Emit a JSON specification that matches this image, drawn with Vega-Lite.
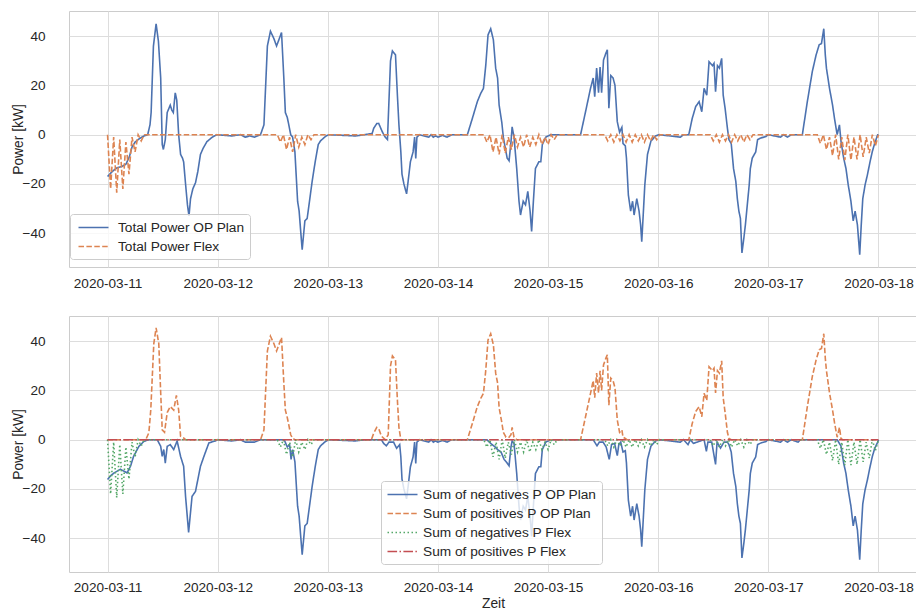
{
"$schema": "https://vega.github.io/schema/vega-lite/v6.json",
"padding": {"top": 10, "left": 11, "right": 0, "bottom": 0},
"background": "white",
"spacing": 24,
"config": {
  "font": "Liberation Sans",
  "view": {"stroke": "#cccccc", "strokeWidth": 1},
  "axis": {"domain": false, "ticks": false, "grid": true, "gridColor": "#dddddd", "gridWidth": 1, "labelFontSize": 13.6, "labelColor": "#262626", "titleFontSize": 13.8, "titleFontWeight": "normal", "titleColor": "#262626"},
  "line": {"strokeWidth": 1.6}
},
"resolve": {"scale": {"color": "independent", "strokeDash": "independent"}, "legend": {"color": "independent", "strokeDash": "independent"}},
"datasets": {
"op": [
{"t":"2020-03-11 00:00","v":-17},{"t":"2020-03-11 00:30","v":-16},{"t":"2020-03-11 01:00","v":-15},{"t":"2020-03-11 02:00","v":-13.5},{"t":"2020-03-11 03:00","v":-13},{"t":"2020-03-11 04:00","v":-12},{"t":"2020-03-11 04:45","v":-9},{"t":"2020-03-11 05:20","v":-5},{"t":"2020-03-11 06:00","v":-3},{"t":"2020-03-11 07:00","v":-1.5},{"t":"2020-03-11 08:00","v":-0.5},{"t":"2020-03-11 08:45","v":0},{"t":"2020-03-11 09:15","v":4},{"t":"2020-03-11 09:30","v":9},{"t":"2020-03-11 10:00","v":36},{"t":"2020-03-11 10:35","v":45},{"t":"2020-03-11 11:05","v":38},{"t":"2020-03-11 11:35","v":23},{"t":"2020-03-11 11:55","v":-4},{"t":"2020-03-11 12:10","v":-6},{"t":"2020-03-11 12:35","v":-2},{"t":"2020-03-11 13:00","v":9},{"t":"2020-03-11 13:40","v":12},{"t":"2020-03-11 14:00","v":10},{"t":"2020-03-11 14:20","v":9},{"t":"2020-03-11 14:45","v":17},{"t":"2020-03-11 15:05","v":14},{"t":"2020-03-11 15:30","v":0},{"t":"2020-03-11 15:55","v":-8},{"t":"2020-03-11 16:20","v":-9.5},{"t":"2020-03-11 16:35","v":-11},{"t":"2020-03-11 17:00","v":-20},{"t":"2020-03-11 17:25","v":-28.5},{"t":"2020-03-11 17:45","v":-33},{"t":"2020-03-11 18:05","v":-26},{"t":"2020-03-11 18:35","v":-22},{"t":"2020-03-11 19:10","v":-19.5},{"t":"2020-03-11 19:40","v":-15},{"t":"2020-03-11 20:15","v":-8},{"t":"2020-03-11 20:50","v":-5.5},{"t":"2020-03-11 21:40","v":-2.8},{"t":"2020-03-11 22:50","v":-1},{"t":"2020-03-11 23:50","v":0},
{"t":"2020-03-12 03:00","v":-0.5},{"t":"2020-03-12 05:00","v":0},{"t":"2020-03-12 06:00","v":-1},{"t":"2020-03-12 07:00","v":-0.5},{"t":"2020-03-12 08:00","v":-1},{"t":"2020-03-12 09:20","v":0},{"t":"2020-03-12 10:05","v":4},{"t":"2020-03-12 10:50","v":36},{"t":"2020-03-12 11:30","v":42},{"t":"2020-03-12 12:15","v":39},{"t":"2020-03-12 12:50","v":36},{"t":"2020-03-12 13:20","v":38.5},{"t":"2020-03-12 13:55","v":41.5},{"t":"2020-03-12 14:25","v":23},{"t":"2020-03-12 14:45","v":9},{"t":"2020-03-12 15:10","v":7},{"t":"2020-03-12 15:30","v":4},{"t":"2020-03-12 15:55","v":0},{"t":"2020-03-12 16:20","v":-1},{"t":"2020-03-12 16:50","v":-7},{"t":"2020-03-12 17:25","v":-27},{"t":"2020-03-12 17:45","v":-31},{"t":"2020-03-12 18:05","v":-39},{"t":"2020-03-12 18:25","v":-46.7},{"t":"2020-03-12 19:00","v":-35},{"t":"2020-03-12 19:30","v":-34},{"t":"2020-03-12 20:05","v":-26},{"t":"2020-03-12 20:35","v":-19},{"t":"2020-03-12 21:15","v":-11},{"t":"2020-03-12 21:55","v":-4},{"t":"2020-03-12 22:25","v":-2.5},{"t":"2020-03-12 23:30","v":-0.7},
{"t":"2020-03-13 00:10","v":0},{"t":"2020-03-13 06:00","v":-0.5},{"t":"2020-03-13 08:00","v":0},{"t":"2020-03-13 09:40","v":0.5},{"t":"2020-03-13 10:00","v":2.6},{"t":"2020-03-13 10:40","v":4.5},{"t":"2020-03-13 11:05","v":4.6},{"t":"2020-03-13 11:55","v":1},{"t":"2020-03-13 12:30","v":-1},{"t":"2020-03-13 13:00","v":-2},{"t":"2020-03-13 13:40","v":30},{"t":"2020-03-13 14:05","v":34},{"t":"2020-03-13 14:45","v":32.4},{"t":"2020-03-13 15:10","v":16},{"t":"2020-03-13 15:30","v":4},{"t":"2020-03-13 15:55","v":-7},{"t":"2020-03-13 16:10","v":-16},{"t":"2020-03-13 16:35","v":-20},{"t":"2020-03-13 17:10","v":-24},{"t":"2020-03-13 17:30","v":-19},{"t":"2020-03-13 18:00","v":-11},{"t":"2020-03-13 18:35","v":-7},{"t":"2020-03-13 18:55","v":-1},{"t":"2020-03-13 19:10","v":-9.6},{"t":"2020-03-13 19:25","v":-1},{"t":"2020-03-13 20:00","v":0},{"t":"2020-03-13 22:00","v":-1},{"t":"2020-03-13 22:30","v":0},{"t":"2020-03-13 23:00","v":-1},{"t":"2020-03-13 23:30","v":-0.5},
{"t":"2020-03-14 00:00","v":-1},{"t":"2020-03-14 01:00","v":-0.3},{"t":"2020-03-14 02:00","v":-1},{"t":"2020-03-14 03:00","v":0},{"t":"2020-03-14 06:25","v":0},{"t":"2020-03-14 07:30","v":6.6},{"t":"2020-03-14 08:35","v":13.4},{"t":"2020-03-14 09:20","v":16.8},{"t":"2020-03-14 09:55","v":18.8},{"t":"2020-03-14 10:25","v":28},{"t":"2020-03-14 10:55","v":40.5},{"t":"2020-03-14 11:30","v":43},{"t":"2020-03-14 12:05","v":38.5},{"t":"2020-03-14 12:35","v":27},{"t":"2020-03-14 13:00","v":23},{"t":"2020-03-14 13:20","v":12},{"t":"2020-03-14 13:55","v":5},{"t":"2020-03-14 14:15","v":-1},{"t":"2020-03-14 14:50","v":-7},{"t":"2020-03-14 15:05","v":-9.5},{"t":"2020-03-14 15:30","v":-10.6},{"t":"2020-03-14 15:55","v":-3},{"t":"2020-03-14 16:10","v":3.2},{"t":"2020-03-14 16:35","v":-1},{"t":"2020-03-14 17:10","v":-13.7},{"t":"2020-03-14 17:40","v":-27},{"t":"2020-03-14 18:00","v":-32.6},{"t":"2020-03-14 18:35","v":-27},{"t":"2020-03-14 19:05","v":-28.5},{"t":"2020-03-14 19:35","v":-23},{"t":"2020-03-14 20:05","v":-31},{"t":"2020-03-14 20:25","v":-39.3},{"t":"2020-03-14 20:50","v":-26},{"t":"2020-03-14 21:15","v":-13.7},{"t":"2020-03-14 22:00","v":-11},{"t":"2020-03-14 22:25","v":-11},{"t":"2020-03-14 22:45","v":-4},{"t":"2020-03-14 23:30","v":-1},
{"t":"2020-03-15 00:35","v":0},{"t":"2020-03-15 07:05","v":0},{"t":"2020-03-15 08:10","v":9.3},{"t":"2020-03-15 09:15","v":18.8},{"t":"2020-03-15 09:50","v":23},{"t":"2020-03-15 10:10","v":15.4},{"t":"2020-03-15 10:35","v":27},{"t":"2020-03-15 11:00","v":17},{"t":"2020-03-15 11:20","v":27.5},{"t":"2020-03-15 11:40","v":17},{"t":"2020-03-15 12:05","v":30.3},{"t":"2020-03-15 12:35","v":33},{"t":"2020-03-15 12:55","v":34.5},{"t":"2020-03-15 13:15","v":10.7},{"t":"2020-03-15 13:40","v":24},{"t":"2020-03-15 14:10","v":23},{"t":"2020-03-15 14:35","v":20},{"t":"2020-03-15 15:05","v":5.3},{"t":"2020-03-15 15:35","v":1},{"t":"2020-03-15 16:05","v":3},{"t":"2020-03-15 16:20","v":-3.6},{"t":"2020-03-15 16:50","v":-4.5},{"t":"2020-03-15 17:05","v":-9.5},{"t":"2020-03-15 17:30","v":-24.5},{"t":"2020-03-15 18:00","v":-31},{"t":"2020-03-15 18:25","v":-27},{"t":"2020-03-15 18:45","v":-32.6},{"t":"2020-03-15 19:20","v":-26},{"t":"2020-03-15 19:50","v":-31},{"t":"2020-03-15 20:10","v":-36.6},{"t":"2020-03-15 20:25","v":-43.4},{"t":"2020-03-15 20:40","v":-35},{"t":"2020-03-15 21:05","v":-20.4},{"t":"2020-03-15 21:40","v":-8},{"t":"2020-03-15 22:25","v":-2.6},{"t":"2020-03-15 23:25","v":-0.5},
{"t":"2020-03-16 00:15","v":0},{"t":"2020-03-16 04:50","v":-1},{"t":"2020-03-16 05:30","v":0},{"t":"2020-03-16 06:40","v":0},{"t":"2020-03-16 07:25","v":6.6},{"t":"2020-03-16 08:10","v":11.4},{"t":"2020-03-16 08:55","v":13.4},{"t":"2020-03-16 09:30","v":9.3},{"t":"2020-03-16 10:00","v":18.8},{"t":"2020-03-16 10:35","v":16},{"t":"2020-03-16 11:05","v":29.6},{"t":"2020-03-16 11:50","v":28},{"t":"2020-03-16 12:10","v":29},{"t":"2020-03-16 12:30","v":17.4},{"t":"2020-03-16 12:55","v":28},{"t":"2020-03-16 13:20","v":27},{"t":"2020-03-16 13:50","v":31},{"t":"2020-03-16 14:10","v":16},{"t":"2020-03-16 14:35","v":10.7},{"t":"2020-03-16 15:05","v":2.6},{"t":"2020-03-16 15:25","v":-2},{"t":"2020-03-16 15:55","v":-3.6},{"t":"2020-03-16 16:25","v":-13.7},{"t":"2020-03-16 16:55","v":-19},{"t":"2020-03-16 17:15","v":-26},{"t":"2020-03-16 17:35","v":-31},{"t":"2020-03-16 17:55","v":-34},{"t":"2020-03-16 18:15","v":-48},{"t":"2020-03-16 18:40","v":-42},{"t":"2020-03-16 19:00","v":-36.6},{"t":"2020-03-16 19:25","v":-28.5},{"t":"2020-03-16 19:50","v":-20.4},{"t":"2020-03-16 20:05","v":-13.7},{"t":"2020-03-16 20:30","v":-9.5},{"t":"2020-03-16 21:15","v":-7},{"t":"2020-03-16 21:40","v":-2},{"t":"2020-03-16 22:25","v":-1.3},{"t":"2020-03-16 23:25","v":-0.8},
{"t":"2020-03-17 00:00","v":0},{"t":"2020-03-17 02:40","v":-1},{"t":"2020-03-17 03:20","v":0},{"t":"2020-03-17 04:10","v":-1},{"t":"2020-03-17 05:00","v":0},{"t":"2020-03-17 07:25","v":0},{"t":"2020-03-17 08:30","v":13.4},{"t":"2020-03-17 09:35","v":25.6},{"t":"2020-03-17 10:25","v":32.4},{"t":"2020-03-17 11:05","v":36.5},{"t":"2020-03-17 11:35","v":37},{"t":"2020-03-17 12:05","v":43},{"t":"2020-03-17 12:25","v":32.4},{"t":"2020-03-17 12:40","v":27},{"t":"2020-03-17 13:20","v":18.8},{"t":"2020-03-17 14:00","v":12},{"t":"2020-03-17 14:25","v":6.6},{"t":"2020-03-17 15:00","v":0},{"t":"2020-03-17 15:30","v":4},{"t":"2020-03-17 15:50","v":-2.6},{"t":"2020-03-17 16:25","v":-9.5},{"t":"2020-03-17 16:55","v":-13.7},{"t":"2020-03-17 17:25","v":-20.4},{"t":"2020-03-17 18:00","v":-27},{"t":"2020-03-17 18:30","v":-35},{"t":"2020-03-17 18:55","v":-31},{"t":"2020-03-17 19:25","v":-36.6},{"t":"2020-03-17 19:55","v":-48.7},{"t":"2020-03-17 20:15","v":-36.6},{"t":"2020-03-17 20:35","v":-26},{"t":"2020-03-17 21:05","v":-20.4},{"t":"2020-03-17 21:35","v":-16.4},{"t":"2020-03-17 22:10","v":-11},{"t":"2020-03-17 22:40","v":-6.8},{"t":"2020-03-17 23:10","v":-3.6},{"t":"2020-03-17 23:50","v":0},{"t":"2020-03-18 00:00","v":0}
],
"neg": [
{"t":"2020-03-11 00:00","v":-16.2},{"t":"2020-03-11 00:45","v":-14.5},{"t":"2020-03-11 01:25","v":-13.5},{"t":"2020-03-11 02:50","v":-12},{"t":"2020-03-11 04:15","v":-13.5},{"t":"2020-03-11 05:00","v":-10.8},{"t":"2020-03-11 05:40","v":-6.8},{"t":"2020-03-11 06:50","v":-2.7},{"t":"2020-03-11 07:55","v":-0.7},{"t":"2020-03-11 09:00","v":0},{"t":"2020-03-11 10:50","v":0},{"t":"2020-03-11 11:35","v":-2.7},{"t":"2020-03-11 11:55","v":-6.8},{"t":"2020-03-11 12:15","v":-4},{"t":"2020-03-11 12:35","v":-9.5},{"t":"2020-03-11 13:00","v":-2.7},{"t":"2020-03-11 13:40","v":-2},{"t":"2020-03-11 14:25","v":-4},{"t":"2020-03-11 15:10","v":-0.5},{"t":"2020-03-11 15:55","v":-6.8},{"t":"2020-03-11 16:35","v":-10.8},{"t":"2020-03-11 17:00","v":-23},{"t":"2020-03-11 17:40","v":-37.6},{"t":"2020-03-11 18:25","v":-23},{"t":"2020-03-11 19:10","v":-21},{"t":"2020-03-11 20:15","v":-10.8},{"t":"2020-03-11 21:00","v":-6.8},{"t":"2020-03-11 22:05","v":-1.3},{"t":"2020-03-11 23:30","v":-0.5},
{"t":"2020-03-12 00:00","v":0},{"t":"2020-03-12 03:00","v":-0.5},{"t":"2020-03-12 05:00","v":0},{"t":"2020-03-12 06:00","v":-1},{"t":"2020-03-12 08:00","v":-1},{"t":"2020-03-12 09:20","v":0},{"t":"2020-03-12 14:30","v":0},{"t":"2020-03-12 15:10","v":-3},{"t":"2020-03-12 15:40","v":-2},{"t":"2020-03-12 16:00","v":-8},{"t":"2020-03-12 16:20","v":-4},{"t":"2020-03-12 16:50","v":-9},{"t":"2020-03-12 17:25","v":-27},{"t":"2020-03-12 17:45","v":-31},{"t":"2020-03-12 18:05","v":-39},{"t":"2020-03-12 18:25","v":-46.7},{"t":"2020-03-12 19:00","v":-35},{"t":"2020-03-12 19:30","v":-34},{"t":"2020-03-12 20:05","v":-26},{"t":"2020-03-12 20:35","v":-19},{"t":"2020-03-12 21:15","v":-11},{"t":"2020-03-12 21:55","v":-4},{"t":"2020-03-12 22:25","v":-2.5},{"t":"2020-03-12 23:30","v":-0.7},
{"t":"2020-03-13 00:10","v":0},{"t":"2020-03-13 06:00","v":-0.5},{"t":"2020-03-13 08:00","v":0},{"t":"2020-03-13 11:40","v":0},{"t":"2020-03-13 12:10","v":-1.5},{"t":"2020-03-13 12:45","v":-2.5},{"t":"2020-03-13 13:20","v":-1},{"t":"2020-03-13 14:20","v":-1},{"t":"2020-03-13 15:00","v":-3.5},{"t":"2020-03-13 15:40","v":-2},{"t":"2020-03-13 15:55","v":-7},{"t":"2020-03-13 16:10","v":-16},{"t":"2020-03-13 16:35","v":-20},{"t":"2020-03-13 17:10","v":-24},{"t":"2020-03-13 17:30","v":-19},{"t":"2020-03-13 18:00","v":-11},{"t":"2020-03-13 18:35","v":-7},{"t":"2020-03-13 18:55","v":-1},{"t":"2020-03-13 19:10","v":-9.6},{"t":"2020-03-13 19:25","v":-1},{"t":"2020-03-13 20:00","v":0},{"t":"2020-03-13 22:00","v":-1},{"t":"2020-03-13 22:30","v":0},{"t":"2020-03-13 23:00","v":-1},{"t":"2020-03-13 23:30","v":-0.5},
{"t":"2020-03-14 00:00","v":-1},{"t":"2020-03-14 01:00","v":-0.3},{"t":"2020-03-14 02:00","v":-1},{"t":"2020-03-14 03:00","v":0},{"t":"2020-03-14 10:40","v":0},{"t":"2020-03-14 11:30","v":-1.5},{"t":"2020-03-14 12:30","v":-3},{"t":"2020-03-14 13:00","v":-4},{"t":"2020-03-14 13:45","v":-5},{"t":"2020-03-14 14:25","v":-8},{"t":"2020-03-14 15:05","v":-9.5},{"t":"2020-03-14 15:30","v":-10.6},{"t":"2020-03-14 15:55","v":-3},{"t":"2020-03-14 16:10","v":-0.5},{"t":"2020-03-14 16:35","v":-1.5},{"t":"2020-03-14 17:10","v":-13.7},{"t":"2020-03-14 17:40","v":-27},{"t":"2020-03-14 18:00","v":-32.6},{"t":"2020-03-14 18:35","v":-27},{"t":"2020-03-14 19:05","v":-28.5},{"t":"2020-03-14 19:35","v":-23},{"t":"2020-03-14 20:05","v":-31},{"t":"2020-03-14 20:25","v":-39.3},{"t":"2020-03-14 20:50","v":-26},{"t":"2020-03-14 21:15","v":-13.7},{"t":"2020-03-14 22:00","v":-11},{"t":"2020-03-14 22:25","v":-11},{"t":"2020-03-14 22:45","v":-4},{"t":"2020-03-14 23:30","v":-1},
{"t":"2020-03-15 00:35","v":0},{"t":"2020-03-15 09:50","v":0},{"t":"2020-03-15 10:10","v":-1},{"t":"2020-03-15 10:40","v":-2.5},{"t":"2020-03-15 11:10","v":-1},{"t":"2020-03-15 12:00","v":-1},{"t":"2020-03-15 12:40","v":-3},{"t":"2020-03-15 13:20","v":-8},{"t":"2020-03-15 13:50","v":-2},{"t":"2020-03-15 14:30","v":-1.5},{"t":"2020-03-15 15:05","v":-6.5},{"t":"2020-03-15 15:25","v":-2},{"t":"2020-03-15 15:50","v":-1},{"t":"2020-03-15 16:20","v":-5},{"t":"2020-03-15 16:50","v":-4.5},{"t":"2020-03-15 17:05","v":-9.5},{"t":"2020-03-15 17:30","v":-24.5},{"t":"2020-03-15 18:00","v":-31},{"t":"2020-03-15 18:25","v":-27},{"t":"2020-03-15 18:45","v":-32.6},{"t":"2020-03-15 19:20","v":-26},{"t":"2020-03-15 19:50","v":-31},{"t":"2020-03-15 20:10","v":-36.6},{"t":"2020-03-15 20:25","v":-43.4},{"t":"2020-03-15 20:40","v":-35},{"t":"2020-03-15 21:05","v":-20.4},{"t":"2020-03-15 21:40","v":-8},{"t":"2020-03-15 22:25","v":-2.6},{"t":"2020-03-15 23:25","v":-0.5},
{"t":"2020-03-16 00:15","v":0},{"t":"2020-03-16 04:50","v":-1},{"t":"2020-03-16 05:30","v":0},{"t":"2020-03-16 06:30","v":-2},{"t":"2020-03-16 07:00","v":0},{"t":"2020-03-16 07:40","v":-1.5},{"t":"2020-03-16 10:00","v":0},{"t":"2020-03-16 10:30","v":-4.7},{"t":"2020-03-16 10:50","v":-1},{"t":"2020-03-16 11:40","v":-1},{"t":"2020-03-16 12:30","v":-10},{"t":"2020-03-16 12:50","v":-1},{"t":"2020-03-16 13:35","v":-3.4},{"t":"2020-03-16 14:20","v":-1},{"t":"2020-03-16 15:05","v":-1},{"t":"2020-03-16 15:25","v":-2},{"t":"2020-03-16 15:55","v":-5},{"t":"2020-03-16 16:25","v":-13.7},{"t":"2020-03-16 16:55","v":-19},{"t":"2020-03-16 17:15","v":-26},{"t":"2020-03-16 17:35","v":-31},{"t":"2020-03-16 17:55","v":-34},{"t":"2020-03-16 18:15","v":-48},{"t":"2020-03-16 18:40","v":-42},{"t":"2020-03-16 19:00","v":-36.6},{"t":"2020-03-16 19:25","v":-28.5},{"t":"2020-03-16 19:50","v":-20.4},{"t":"2020-03-16 20:05","v":-13.7},{"t":"2020-03-16 20:30","v":-9.5},{"t":"2020-03-16 21:15","v":-7},{"t":"2020-03-16 21:40","v":-2},{"t":"2020-03-16 22:25","v":-1.3},{"t":"2020-03-16 23:25","v":-0.8},
{"t":"2020-03-17 00:00","v":0},{"t":"2020-03-17 02:40","v":-1},{"t":"2020-03-17 03:20","v":0},{"t":"2020-03-17 04:10","v":-1},{"t":"2020-03-17 05:00","v":0},{"t":"2020-03-17 06:30","v":-1},{"t":"2020-03-17 07:00","v":0},{"t":"2020-03-17 15:00","v":0},{"t":"2020-03-17 15:50","v":-2.6},{"t":"2020-03-17 16:25","v":-9.5},{"t":"2020-03-17 16:55","v":-13.7},{"t":"2020-03-17 17:25","v":-20.4},{"t":"2020-03-17 18:00","v":-27},{"t":"2020-03-17 18:30","v":-35},{"t":"2020-03-17 18:55","v":-31},{"t":"2020-03-17 19:25","v":-36.6},{"t":"2020-03-17 19:55","v":-48.7},{"t":"2020-03-17 20:15","v":-36.6},{"t":"2020-03-17 20:35","v":-26},{"t":"2020-03-17 21:05","v":-20.4},{"t":"2020-03-17 21:35","v":-16.4},{"t":"2020-03-17 22:10","v":-11},{"t":"2020-03-17 22:40","v":-6.8},{"t":"2020-03-17 23:10","v":-3.6},{"t":"2020-03-17 23:50","v":-1},{"t":"2020-03-18 00:00","v":0}
],
"pos": [
{"t":"2020-03-11 00:00","v":0},{"t":"2020-03-11 08:20","v":0},{"t":"2020-03-11 09:00","v":2.8},{"t":"2020-03-11 09:25","v":12},{"t":"2020-03-11 10:05","v":39},{"t":"2020-03-11 10:35","v":45.4},{"t":"2020-03-11 11:10","v":39},{"t":"2020-03-11 11:35","v":19},{"t":"2020-03-11 11:55","v":4},{"t":"2020-03-11 12:25","v":3},{"t":"2020-03-11 13:00","v":11},{"t":"2020-03-11 13:40","v":13.5},{"t":"2020-03-11 14:25","v":12},{"t":"2020-03-11 15:00","v":18},{"t":"2020-03-11 15:30","v":12},{"t":"2020-03-11 15:55","v":1.4},{"t":"2020-03-11 16:35","v":0.7},{"t":"2020-03-11 17:00","v":0},
{"t":"2020-03-12 09:20","v":0},{"t":"2020-03-12 10:05","v":4},{"t":"2020-03-12 10:50","v":36},{"t":"2020-03-12 11:30","v":42},{"t":"2020-03-12 12:15","v":39},{"t":"2020-03-12 12:50","v":36},{"t":"2020-03-12 13:20","v":38.5},{"t":"2020-03-12 13:55","v":41.5},{"t":"2020-03-12 14:25","v":23},{"t":"2020-03-12 14:45","v":12},{"t":"2020-03-12 15:10","v":9},{"t":"2020-03-12 15:30","v":6},{"t":"2020-03-12 15:55","v":2},{"t":"2020-03-12 16:20","v":0.5},{"t":"2020-03-12 16:50","v":0},
{"t":"2020-03-13 09:30","v":0},{"t":"2020-03-13 10:00","v":2.6},{"t":"2020-03-13 10:40","v":5},{"t":"2020-03-13 11:05","v":4.6},{"t":"2020-03-13 11:40","v":1.5},{"t":"2020-03-13 12:30","v":0},{"t":"2020-03-13 13:10","v":2},{"t":"2020-03-13 13:40","v":30},{"t":"2020-03-13 14:05","v":34},{"t":"2020-03-13 14:45","v":32.4},{"t":"2020-03-13 15:10","v":16},{"t":"2020-03-13 15:30","v":5},{"t":"2020-03-13 15:55","v":0},
{"t":"2020-03-14 06:25","v":0},{"t":"2020-03-14 07:30","v":6.6},{"t":"2020-03-14 08:35","v":13.4},{"t":"2020-03-14 09:20","v":16.8},{"t":"2020-03-14 09:55","v":18.8},{"t":"2020-03-14 10:25","v":28},{"t":"2020-03-14 10:55","v":40.5},{"t":"2020-03-14 11:30","v":43},{"t":"2020-03-14 12:05","v":38.5},{"t":"2020-03-14 12:35","v":27},{"t":"2020-03-14 13:00","v":23},{"t":"2020-03-14 13:20","v":13},{"t":"2020-03-14 13:55","v":7},{"t":"2020-03-14 14:15","v":3},{"t":"2020-03-14 14:50","v":1},{"t":"2020-03-14 15:30","v":1},{"t":"2020-03-14 15:55","v":2},{"t":"2020-03-14 16:10","v":5},{"t":"2020-03-14 16:35","v":1},{"t":"2020-03-14 17:10","v":0},
{"t":"2020-03-15 07:05","v":0},{"t":"2020-03-15 08:10","v":9.3},{"t":"2020-03-15 09:15","v":18.8},{"t":"2020-03-15 09:50","v":24},{"t":"2020-03-15 10:10","v":17},{"t":"2020-03-15 10:35","v":27},{"t":"2020-03-15 11:00","v":19},{"t":"2020-03-15 11:20","v":28},{"t":"2020-03-15 11:40","v":20},{"t":"2020-03-15 12:05","v":30.3},{"t":"2020-03-15 12:35","v":33},{"t":"2020-03-15 12:55","v":34.5},{"t":"2020-03-15 13:15","v":14},{"t":"2020-03-15 13:40","v":25},{"t":"2020-03-15 14:10","v":24},{"t":"2020-03-15 14:35","v":21},{"t":"2020-03-15 15:05","v":8},{"t":"2020-03-15 15:35","v":3},{"t":"2020-03-15 16:05","v":4},{"t":"2020-03-15 16:20","v":1},{"t":"2020-03-15 16:50","v":0.5},{"t":"2020-03-15 17:10","v":0},
{"t":"2020-03-16 06:40","v":0},{"t":"2020-03-16 07:25","v":6.6},{"t":"2020-03-16 08:10","v":11.4},{"t":"2020-03-16 08:55","v":13.4},{"t":"2020-03-16 09:30","v":9.3},{"t":"2020-03-16 10:00","v":18.8},{"t":"2020-03-16 10:35","v":16},{"t":"2020-03-16 11:05","v":29.6},{"t":"2020-03-16 11:50","v":28},{"t":"2020-03-16 12:10","v":29},{"t":"2020-03-16 12:30","v":19},{"t":"2020-03-16 12:55","v":28},{"t":"2020-03-16 13:20","v":27},{"t":"2020-03-16 13:50","v":32},{"t":"2020-03-16 14:10","v":17},{"t":"2020-03-16 14:35","v":11},{"t":"2020-03-16 15:05","v":3},{"t":"2020-03-16 15:25","v":0.5},{"t":"2020-03-16 15:55","v":0},
{"t":"2020-03-17 07:25","v":0},{"t":"2020-03-17 08:30","v":13.4},{"t":"2020-03-17 09:35","v":25.6},{"t":"2020-03-17 10:25","v":32.4},{"t":"2020-03-17 11:05","v":36.5},{"t":"2020-03-17 11:35","v":37},{"t":"2020-03-17 12:05","v":43},{"t":"2020-03-17 12:25","v":33},{"t":"2020-03-17 12:40","v":28},{"t":"2020-03-17 13:20","v":19},{"t":"2020-03-17 14:00","v":12},{"t":"2020-03-17 14:25","v":7},{"t":"2020-03-17 15:00","v":1},{"t":"2020-03-17 15:30","v":5},{"t":"2020-03-17 15:50","v":0.5},{"t":"2020-03-17 16:10","v":0},{"t":"2020-03-18 00:00","v":0}
],
"flex": [
{"t":"2020-03-11 00:00","v":0},{"t":"2020-03-11 00:40","v":-22},{"t":"2020-03-11 01:20","v":-1},{"t":"2020-03-11 02:00","v":-23.5},{"t":"2020-03-11 02:40","v":-2},{"t":"2020-03-11 03:20","v":-22},{"t":"2020-03-11 04:00","v":-3},{"t":"2020-03-11 04:40","v":-16},{"t":"2020-03-11 05:20","v":-1},{"t":"2020-03-11 06:00","v":-7},{"t":"2020-03-11 06:40","v":0},{"t":"2020-03-11 07:20","v":-2.5},{"t":"2020-03-11 08:00","v":0},
{"t":"2020-03-12 13:00","v":0},{"t":"2020-03-12 13:40","v":-3},{"t":"2020-03-12 14:20","v":0},{"t":"2020-03-12 15:00","v":-6},{"t":"2020-03-12 15:40","v":-1},{"t":"2020-03-12 16:20","v":-7},{"t":"2020-03-12 17:00","v":0},{"t":"2020-03-12 17:40","v":-5},{"t":"2020-03-12 18:20","v":-1},{"t":"2020-03-12 19:00","v":-4},{"t":"2020-03-12 19:40","v":0},{"t":"2020-03-12 20:20","v":-2},{"t":"2020-03-12 21:00","v":0},
{"t":"2020-03-14 10:00","v":0},{"t":"2020-03-14 10:40","v":-3},{"t":"2020-03-14 11:20","v":0},{"t":"2020-03-14 12:00","v":-7},{"t":"2020-03-14 12:40","v":-1},{"t":"2020-03-14 13:20","v":-8},{"t":"2020-03-14 14:00","v":0},{"t":"2020-03-14 14:40","v":-7.5},{"t":"2020-03-14 15:20","v":-1},{"t":"2020-03-14 16:00","v":-6},{"t":"2020-03-14 16:40","v":0},{"t":"2020-03-14 17:20","v":-5},{"t":"2020-03-14 18:00","v":-1},{"t":"2020-03-14 18:40","v":-5},{"t":"2020-03-14 19:20","v":0},{"t":"2020-03-14 20:00","v":-5},{"t":"2020-03-14 20:40","v":-1},{"t":"2020-03-14 21:20","v":-4},{"t":"2020-03-14 22:00","v":0},{"t":"2020-03-14 22:40","v":-4},{"t":"2020-03-14 23:20","v":-1},{"t":"2020-03-15 00:00","v":-4},{"t":"2020-03-15 00:40","v":0},{"t":"2020-03-15 01:20","v":-2},{"t":"2020-03-15 02:00","v":0},
{"t":"2020-03-15 12:20","v":0},{"t":"2020-03-15 13:00","v":-2.5},{"t":"2020-03-15 13:40","v":0},{"t":"2020-03-15 14:20","v":-3},{"t":"2020-03-15 15:00","v":0},{"t":"2020-03-15 15:40","v":-2.5},{"t":"2020-03-15 16:20","v":0},{"t":"2020-03-15 17:00","v":-3},{"t":"2020-03-15 17:40","v":0},{"t":"2020-03-15 18:20","v":-3},{"t":"2020-03-15 19:00","v":0},{"t":"2020-03-15 19:40","v":-2.5},{"t":"2020-03-15 20:20","v":0},{"t":"2020-03-15 21:00","v":-3},{"t":"2020-03-15 21:40","v":0},{"t":"2020-03-15 22:20","v":-2.5},{"t":"2020-03-15 23:00","v":0},{"t":"2020-03-15 23:40","v":-2},{"t":"2020-03-16 00:20","v":0},
{"t":"2020-03-16 11:20","v":0},{"t":"2020-03-16 12:00","v":-2.5},{"t":"2020-03-16 12:40","v":0},{"t":"2020-03-16 13:20","v":-3},{"t":"2020-03-16 14:00","v":0},{"t":"2020-03-16 14:40","v":-2.5},{"t":"2020-03-16 15:20","v":0},{"t":"2020-03-16 16:00","v":-3},{"t":"2020-03-16 16:40","v":0},{"t":"2020-03-16 17:20","v":-2.5},{"t":"2020-03-16 18:00","v":0},{"t":"2020-03-16 18:40","v":-3},{"t":"2020-03-16 19:20","v":0},{"t":"2020-03-16 20:00","v":-2},{"t":"2020-03-16 20:40","v":0},
{"t":"2020-03-17 10:40","v":0},{"t":"2020-03-17 11:20","v":-3.5},{"t":"2020-03-17 12:00","v":0},{"t":"2020-03-17 12:40","v":-6},{"t":"2020-03-17 13:20","v":-1},{"t":"2020-03-17 14:00","v":-8.5},{"t":"2020-03-17 14:40","v":0},{"t":"2020-03-17 15:20","v":-10},{"t":"2020-03-17 16:00","v":-1},{"t":"2020-03-17 16:40","v":-10.3},{"t":"2020-03-17 17:20","v":0},{"t":"2020-03-17 18:00","v":-10.3},{"t":"2020-03-17 18:40","v":-1},{"t":"2020-03-17 19:20","v":-10},{"t":"2020-03-17 20:00","v":0},{"t":"2020-03-17 20:40","v":-9},{"t":"2020-03-17 21:20","v":-1},{"t":"2020-03-17 22:00","v":-7.5},{"t":"2020-03-17 22:40","v":0},{"t":"2020-03-17 23:20","v":-4.5},{"t":"2020-03-18 00:00","v":0}
],
"zero": [{"t":"2020-03-11 00:00","v":0},{"t":"2020-03-18 00:00","v":0}]
},
"vconcat": [
{
  "width": 848, "height": 256,
  "layer": [
    {"data": {"name": "op"}, "mark": {"type": "line", "clip": true},
     "encoding": {
       "x": {"field": "t", "type": "temporal", "scale": {"domain": [{"year":2020,"month":3,"date":10,"hours":15,"minutes":36},{"year":2020,"month":3,"date":18,"hours":8,"minutes":24}]}, "axis": {"values": [{"year":2020,"month":3,"date":11},{"year":2020,"month":3,"date":12},{"year":2020,"month":3,"date":13},{"year":2020,"month":3,"date":14},{"year":2020,"month":3,"date":15},{"year":2020,"month":3,"date":16},{"year":2020,"month":3,"date":17},{"year":2020,"month":3,"date":18}], "format": "%Y-%m-%d", "title": null, "labelPadding": 9}},
       "y": {"field": "v", "type": "quantitative", "scale": {"domain": [-53.7, 50.2], "nice": false, "zero": false}, "axis": {"values": [-40,-20,0,20,40], "title": "Power [kW]", "labelPadding": 24, "titlePadding": -4, "labelExpr": "replace(datum.label, '-', '−')"}},
       "color": {"datum": "Total Power OP Plan", "type": "nominal", "scale": {"domain": ["Total Power OP Plan", "Total Power Flex"], "range": ["#4C72B0", "#DD8452"]},
         "legend": {"title": null, "orient": "none", "legendX": 1, "legendY": 203, "symbolType": "M-2,0H2", "symbolSize": 225, "symbolStrokeWidth": 1.6, "symbolOffset": 10, "labelOffset": 16, "fillColor": "rgba(255,255,255,0.8)", "strokeColor": "#cccccc", "padding": 5, "cornerRadius": 3, "rowPadding": 3, "labelFontSize": 13.7, "labelColor": "#262626", "labelLimit": 400}},
       "strokeDash": {"datum": "Total Power OP Plan", "type": "nominal", "scale": {"domain": ["Total Power OP Plan", "Total Power Flex"], "range": [[1,0],[5.5,2.4]]},
         "legend": {"title": null, "orient": "none", "legendX": 1, "legendY": 203, "symbolType": "M-2,0H2", "symbolSize": 225, "symbolStrokeWidth": 1.6, "symbolOffset": 10, "labelOffset": 16, "fillColor": "rgba(255,255,255,0.8)", "strokeColor": "#cccccc", "padding": 5, "cornerRadius": 3, "rowPadding": 3, "labelFontSize": 13.7, "labelColor": "#262626", "labelLimit": 400}}
     }},
    {"data": {"name": "flex"}, "mark": {"type": "line", "clip": true},
     "encoding": {
       "x": {"field": "t", "type": "temporal"},
       "y": {"field": "v", "type": "quantitative"},
       "color": {"datum": "Total Power Flex", "type": "nominal"},
       "strokeDash": {"datum": "Total Power Flex", "type": "nominal"}
     }}
  ]
},
{
  "width": 848, "height": 256,
  "layer": [
    {"data": {"name": "neg"}, "mark": {"type": "line", "clip": true},
     "encoding": {
       "x": {"field": "t", "type": "temporal", "scale": {"domain": [{"year":2020,"month":3,"date":10,"hours":15,"minutes":36},{"year":2020,"month":3,"date":18,"hours":8,"minutes":24}]}, "axis": {"values": [{"year":2020,"month":3,"date":11},{"year":2020,"month":3,"date":12},{"year":2020,"month":3,"date":13},{"year":2020,"month":3,"date":14},{"year":2020,"month":3,"date":15},{"year":2020,"month":3,"date":16},{"year":2020,"month":3,"date":17},{"year":2020,"month":3,"date":18}], "format": "%Y-%m-%d", "title": "Zeit", "labelPadding": 8, "titlePadding": 3}},
       "y": {"field": "v", "type": "quantitative", "scale": {"domain": [-53.7, 50.2], "nice": false, "zero": false}, "axis": {"values": [-40,-20,0,20,40], "title": "Power [kW]", "labelPadding": 24, "titlePadding": -4, "labelExpr": "replace(datum.label, '-', '−')"}},
       "color": {"datum": "Sum of negatives P OP Plan", "type": "nominal", "scale": {"domain": ["Sum of negatives P OP Plan", "Sum of positives P OP Plan", "Sum of negatives P Flex", "Sum of positives P Flex"], "range": ["#4C72B0", "#DD8452", "#55A868", "#C44E52"]},
         "legend": {"title": null, "orient": "none", "legendX": 312, "legendY": 165, "symbolType": "M-2,0H2", "symbolSize": 225, "symbolStrokeWidth": 1.6, "symbolOffset": 8, "labelOffset": 12, "fillColor": "rgba(255,255,255,0.8)", "strokeColor": "#cccccc", "padding": 5, "cornerRadius": 3, "rowPadding": 3, "labelFontSize": 13.7, "labelColor": "#262626", "labelLimit": 400}},
       "strokeDash": {"datum": "Sum of negatives P OP Plan", "type": "nominal", "scale": {"domain": ["Sum of negatives P OP Plan", "Sum of positives P OP Plan", "Sum of negatives P Flex", "Sum of positives P Flex"], "range": [[1,0],[5.5,2.4],[1.5,2.5],[9.6,2.4,1.5,2.4]]},
         "legend": {"title": null, "orient": "none", "legendX": 312, "legendY": 165, "symbolType": "M-2,0H2", "symbolSize": 225, "symbolStrokeWidth": 1.6, "symbolOffset": 8, "labelOffset": 12, "fillColor": "rgba(255,255,255,0.8)", "strokeColor": "#cccccc", "padding": 5, "cornerRadius": 3, "rowPadding": 3, "labelFontSize": 13.7, "labelColor": "#262626", "labelLimit": 400}}
     }},
    {"data": {"name": "pos"}, "mark": {"type": "line", "clip": true},
     "encoding": {
       "x": {"field": "t", "type": "temporal"},
       "y": {"field": "v", "type": "quantitative"},
       "color": {"datum": "Sum of positives P OP Plan", "type": "nominal"},
       "strokeDash": {"datum": "Sum of positives P OP Plan", "type": "nominal"}
     }},
    {"data": {"name": "flex"}, "mark": {"type": "line", "clip": true},
     "encoding": {
       "x": {"field": "t", "type": "temporal"},
       "y": {"field": "v", "type": "quantitative"},
       "color": {"datum": "Sum of negatives P Flex", "type": "nominal"},
       "strokeDash": {"datum": "Sum of negatives P Flex", "type": "nominal"}
     }},
    {"data": {"name": "zero"}, "mark": {"type": "line", "clip": true},
     "encoding": {
       "x": {"field": "t", "type": "temporal"},
       "y": {"field": "v", "type": "quantitative"},
       "color": {"datum": "Sum of positives P Flex", "type": "nominal"},
       "strokeDash": {"datum": "Sum of positives P Flex", "type": "nominal"}
     }}
  ]
}
]
}
